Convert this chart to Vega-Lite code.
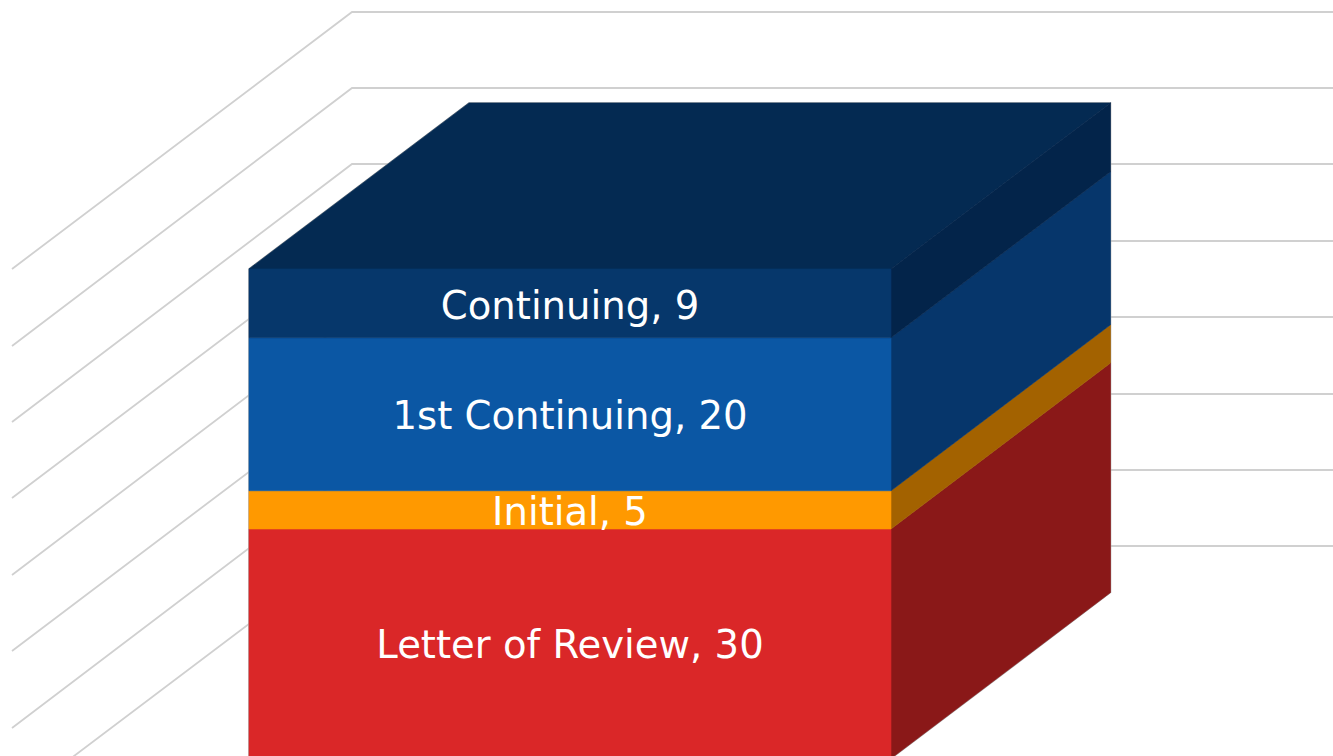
{
"$schema":"https://vega.github.io/schema/vega-lite/v6.json",
"width":1333,"height":756,"autosize":{"type":"none"},"padding":0,"background":"white",
"config":{"view":{"stroke":null}},
"datasets":{
"grid":[
{"level":0,"step":1,"x":1.2,"v":-5.8},{"level":0,"step":2,"x":35.2,"v":27.78},{"level":0,"step":3,"x":133.3,"v":27.78},
{"level":10,"step":1,"x":1.2,"v":3.99},{"level":10,"step":2,"x":35.2,"v":37.71},{"level":10,"step":3,"x":133.3,"v":37.71},
{"level":20,"step":1,"x":1.2,"v":14.05},{"level":20,"step":2,"x":35.2,"v":47.65},{"level":20,"step":3,"x":133.3,"v":47.65},
{"level":30,"step":1,"x":1.2,"v":23.99},{"level":30,"step":2,"x":35.2,"v":57.71},{"level":30,"step":3,"x":133.3,"v":57.71},
{"level":40,"step":1,"x":1.2,"v":34.05},{"level":40,"step":2,"x":35.2,"v":67.65},{"level":40,"step":3,"x":133.3,"v":67.65},
{"level":50,"step":1,"x":1.2,"v":43.99},{"level":50,"step":2,"x":35.2,"v":77.71},{"level":50,"step":3,"x":133.3,"v":77.71},
{"level":60,"step":1,"x":1.2,"v":53.92},{"level":60,"step":2,"x":35.2,"v":87.65},{"level":60,"step":3,"x":133.3,"v":87.65},
{"level":70,"step":1,"x":1.2,"v":63.99},{"level":70,"step":2,"x":35.2,"v":97.58},{"level":70,"step":3,"x":133.3,"v":97.58}
],
"edge":[
{"step":1,"x":24.9,"v":0},{"step":2,"x":24.9,"v":64},{"step":3,"x":46.9,"v":85.7},{"step":4,"x":111.05,"v":85.7},{"step":5,"x":111.05,"v":21.7},{"step":6,"x":89.1,"v":0}
],
"front":[
{"face":"Letter of Review","x":24.9,"x2":89.1,"v":0,"v2":30},
{"face":"Initial","x":24.9,"x2":89.1,"v":30,"v2":35},
{"face":"1st Continuing","x":24.9,"x2":89.1,"v":35,"v2":55},
{"face":"Continuing","x":24.9,"x2":89.1,"v":55,"v2":64}
],
"side":[
{"face":"Letter of Review side","x":89.1,"v":0,"v2":30},{"face":"Letter of Review side","x":111.05,"v":21.7,"v2":51.7},
{"face":"Initial side","x":89.1,"v":30,"v2":35},{"face":"Initial side","x":111.05,"v":51.7,"v2":56.7},
{"face":"1st Continuing side","x":89.1,"v":35,"v2":55},{"face":"1st Continuing side","x":111.05,"v":56.7,"v2":76.7},
{"face":"Continuing side","x":89.1,"v":55,"v2":64},{"face":"Continuing side","x":111.05,"v":76.7,"v2":85.7}
],
"top":[
{"face":"Top","v":64,"x":24.9,"x2":89.1},{"face":"Top","v":85.7,"x":46.9,"x2":111.05}
],
"labels":[
{"label":"Letter of Review, 30","x":57,"v":14.7},
{"label":"Initial, 5","x":57,"v":32.1},
{"label":"1st Continuing, 20","x":57,"v":44.6},
{"label":"Continuing, 9","x":57,"v":59}
]
},
"encoding":{
"x":{"field":"x","type":"quantitative","scale":{"domain":[0,133.3],"nice":false,"zero":false},"axis":null},
"y":{"field":"v","type":"quantitative","scale":{"domain":[0.327,99.15],"nice":false,"zero":false},"axis":null,"stack":null}
},
"layer":[
{"data":{"name":"grid"},"mark":{"type":"line","color":"#d0d0d0","strokeWidth":1.8,"clip":true,"strokeJoin":"miter"},
 "encoding":{"detail":{"field":"level"},"order":{"field":"step","type":"quantitative"}}},
{"data":{"name":"edge"},"mark":{"type":"line","color":"#a8a8a8","strokeWidth":1.5,"clip":true,"strokeJoin":"miter"},
 "encoding":{"order":{"field":"step","type":"quantitative"}}},
{"data":{"name":"top"},"mark":{"type":"area","orient":"horizontal","clip":true,"strokeWidth":0.6},
 "encoding":{"x2":{"field":"x2"},
  "color":{"field":"face","type":"nominal","legend":null,
   "scale":{"domain":["Letter of Review","Initial","1st Continuing","Continuing","Letter of Review side","Initial side","1st Continuing side","Continuing side","Top"],
   "range":["#da2728","#ff9900","#0b57a4","#06376b","#8a1818","#a36200","#06366b","#03244a","#042a52"]}},
  "stroke":{"field":"face","type":"nominal","legend":null,
   "scale":{"domain":["Letter of Review","Initial","1st Continuing","Continuing","Letter of Review side","Initial side","1st Continuing side","Continuing side","Top"],
   "range":["#da2728","#ff9900","#0b57a4","#06376b","#8a1818","#a36200","#06366b","#03244a","#042a52"]}}}},
{"data":{"name":"side"},"mark":{"type":"area","orient":"vertical","clip":true,"strokeWidth":0.6},
 "encoding":{"y2":{"field":"v2"},"color":{"field":"face","type":"nominal","legend":null},"stroke":{"field":"face","type":"nominal","legend":null}}},
{"data":{"name":"front"},"mark":{"type":"rect","clip":true,"strokeWidth":0.6},
 "encoding":{"x2":{"field":"x2"},"y2":{"field":"v2"},"color":{"field":"face","type":"nominal","legend":null},"stroke":{"field":"face","type":"nominal","legend":null}}},
{"data":{"name":"labels"},"mark":{"type":"text","font":"DejaVu Sans","fontSize":38.6,"color":"white","align":"center","baseline":"middle"},
 "encoding":{"text":{"field":"label"}}}
]
}
